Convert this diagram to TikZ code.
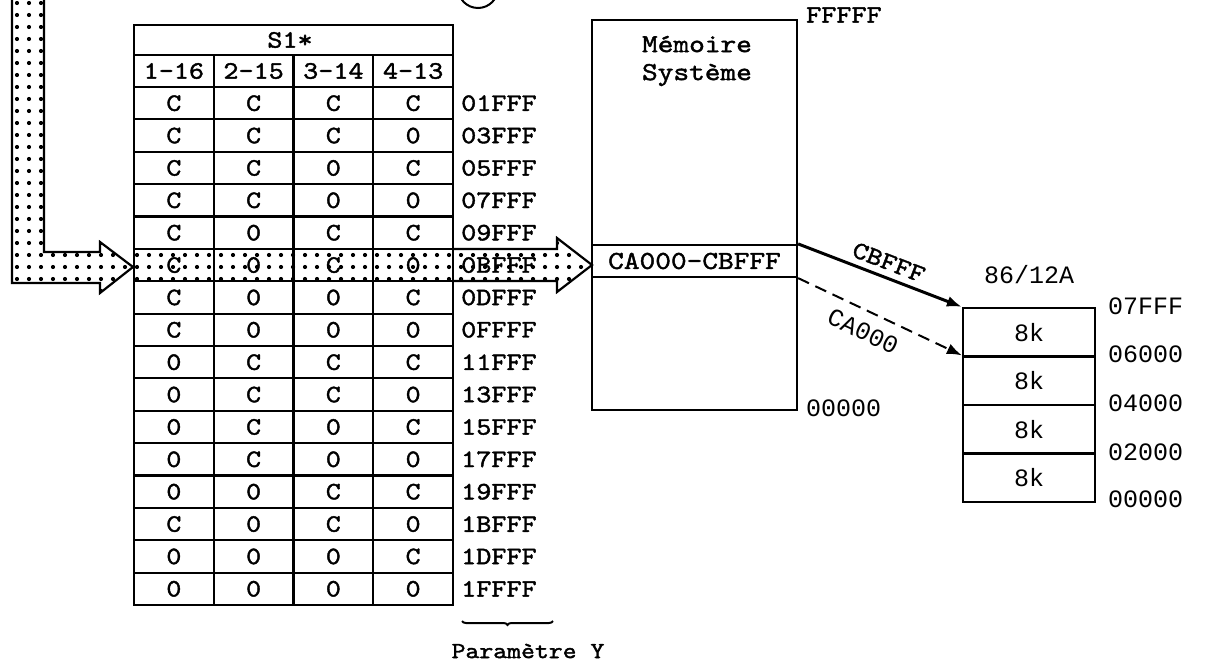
\documentclass[tikz,border=0pt]{standalone}
\usepackage{fontspec}
\newfontfamily\twf{lmmono10-regular.otf}[FakeStretch=1.15,FakeBold=1.6]
\newfontfamily\lgf{Liberation Mono}
\usetikzlibrary{arrows.meta,decorations.pathreplacing}
\tikzset{
  tbl/.style={line width=2.2pt},
  cellt/.style={font=\twf\fontsize{25}{30}\selectfont, inner sep=0pt},
  addrt/.style={cellt, anchor=west},
  sanst/.style={font=\lgf\fontsize{25}{30}\selectfont, inner sep=0pt},
  sanaddr/.style={sanst, anchor=west},
  dotarrow/.style={line width=2.2pt, line join=miter},
  dotmark/.style={fill=black},
  boxnode/.style={draw, tbl, inner sep=0pt},
}
\begin{document}
\begin{tikzpicture}[x=1pt, y=-1pt]
\useasboundingbox (0,0) rectangle (1209,663);
\clip (0,0) rectangle (1209,663);

% circled mark cut at the top
\node[draw, circle, line width=2pt, minimum size=40pt] (circ) at (478,-12) {};

% ---- table S1* ----
\draw[tbl] (134,25) rectangle (453,605);
\draw[tbl] (134,55) -- (453,55);
\draw[tbl] (134,87) -- (453,87);
\foreach \k in {1,...,15} \draw[tbl] (134,{87+32.375*\k}) -- (453,{87+32.375*\k});
\foreach \xx in {213.75,293.5,373.25} \draw[tbl] (\xx,55) -- (\xx,605);

\node[cellt] (s1hdr) at (290,40) {S1*};
\foreach \h [count=\c] in {1-16,2-15,3-14,4-13}
  \node[cellt] (h\c) at ({134+79.75*(\c-0.5)},71) {\h};

\foreach \rowvals [count=\r] in {{C,C,C,C,01FFF},{C,C,C,0,03FFF},{C,C,0,C,05FFF},{C,C,0,0,07FFF},{C,0,C,C,09FFF},{C,0,C,0,0BFFF},{C,0,0,C,0DFFF},{C,0,0,0,0FFFF},{0,C,C,C,11FFF},{0,C,C,0,13FFF},{0,C,0,C,15FFF},{0,C,0,0,17FFF},{0,0,C,C,19FFF},{C,0,C,0,1BFFF},{0,0,0,C,1DFFF},{0,0,0,0,1FFFF}}{
  \foreach \v [count=\c] in \rowvals {
    \ifnum\c<5
      \node[cellt] (c\r-\c) at ({134+79.75*(\c-0.5)},{87+32.375*(\r-0.5)}) {\v};
    \else
      \node[addrt] (a\r) at (461,{87+32.375*(\r-0.5)}) {\v};
    \fi
  }
}

% ---- dotted arrows ----
\begin{scope}
  \clip (12,-5) -- (12,283) -- (100,283) -- (100,293) -- (133,267) -- (100,242) -- (100,252) -- (44,252) -- (44,-5) -- cycle;
  \foreach \i in {0,...,10} \foreach \j in {0,...,24}
    \fill[dotmark] ({17+12*\i},{3+12*\j}) circle[radius=2.1];
\end{scope}
\draw[dotarrow] (12,-5) -- (12,283) -- (100,283) -- (100,293) -- (133,267) -- (100,242) -- (100,252) -- (44,252) -- (44,-5);

\begin{scope}
  \clip (134,249) -- (557,249) -- (557,238) -- (592,265) -- (557,292) -- (557,281) -- (134,281) -- cycle;
  \foreach \i in {10,...,48} \foreach \j in {20,...,24}
    \fill[dotmark] ({17+12*\i},{3+12*\j}) circle[radius=2.1];
\end{scope}
\draw[dotarrow] (453,249) -- (557,249) -- (557,238) -- (592,265) -- (557,292) -- (557,281) -- (453,281);

% ---- system memory ----
\node[boxnode, minimum width=205pt, minimum height=390pt] (mem) at (694.5,215) {};
\node[font=\twf\fontsize{26}{28}\selectfont, align=center, inner sep=0pt] (memtxt) at (697,61) {Mémoire\\Système};
\node[boxnode, minimum width=205pt, minimum height=32pt, font=\twf\fontsize{26}{30}\selectfont] (strip) at (694.5,261) {CA000-CBFFF};
\node[addrt] (ffff) at (806,15) {FFFFF};
\node[sanaddr] (zmem) at (806,408) {00000};

% ---- 86/12A stack ----
\node[sanst] (title) at (1029,275) {86/12A};
\foreach \i in {1,...,4}
  \node[boxnode, minimum width=132pt, minimum height=48.5pt, sanst] (s\i) at (1029,{332.25+48.5*(\i-1)}) {8k};
\node[sanaddr] (l1) at (1108,306) {07FFF};
\node[sanaddr] (l2) at (1108,354) {06000};
\node[sanaddr] (l3) at (1108,403) {04000};
\node[sanaddr] (l4) at (1108,452) {02000};
\node[sanaddr] (l5) at (1108,499) {00000};

% ---- connectors ----
\draw[line width=3pt, -{Latex[length=15pt,width=11pt]}] (strip.north east) -- node[sloped, above=6pt, pos=0.52, cellt] (lb) {CBFFF} (s1.north west);
\draw[line width=2pt, dash pattern=on 12pt off 7pt, -{Latex[length=15pt,width=11pt]}] (strip.south east) -- node[sloped, below=11pt, pos=0.45, sanst] (la) {CA000} (s2.north west);

% ---- parameter Y ----
\draw[line width=2pt, decorate, decoration={brace, amplitude=4pt}] (553,621) -- (462,621);
\node[font=\twf\fontsize{23}{26}\selectfont, inner sep=0pt] (param) at (528,651) {Paramètre Y};
\end{tikzpicture}
\end{document}
